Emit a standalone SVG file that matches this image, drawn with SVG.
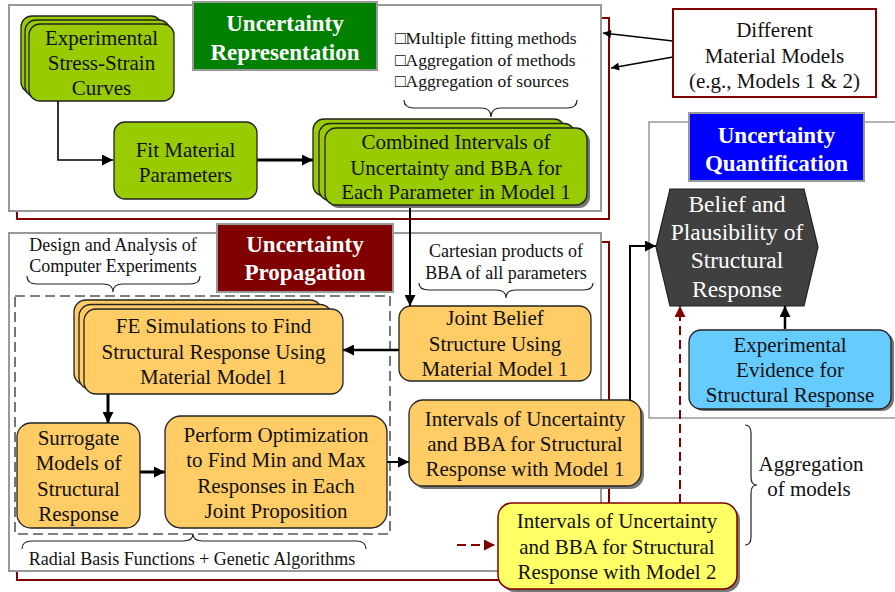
<svg xmlns="http://www.w3.org/2000/svg" width="895" height="592" viewBox="0 0 895 592" font-family="'Liberation Serif', 'Times New Roman', 'DejaVu Serif', serif">
<defs>
<style>
text{font-family:'Liberation Serif','Times New Roman','DejaVu Serif',serif;fill:#111;}
.t{font-size:21px;text-anchor:middle;}
.s{font-size:18px;text-anchor:middle;}
.h{font-size:23px;font-weight:bold;fill:#fff;text-anchor:middle;}
.w{fill:#fff;font-size:23.5px;text-anchor:middle;}
.panel{fill:#fff;stroke:#999;stroke-width:2;}
.rpanel{fill:none;stroke:#800000;stroke-width:2;}
.green{fill:#99CC00;stroke:#222;stroke-width:1.3;}
.orange{fill:#FFCC66;stroke:#222;stroke-width:1.3;}
.blue{fill:#66CCFF;stroke:#222;stroke-width:1.3;}
.yellow{fill:#FFFF66;stroke:#800000;stroke-width:1.5;}
.shadow{fill:#777;}
.ttl{stroke:#999;stroke-width:2;}
.brace{fill:none;stroke:#222;stroke-width:1.2;}
.c{fill:none;stroke:#000;}
.cr{fill:none;stroke:#800000;stroke-width:2;stroke-dasharray:9,5;}
</style>
<marker id="ah" viewBox="0 0 10 10" refX="10" refY="5" markerUnits="userSpaceOnUse" markerWidth="13" markerHeight="11" orient="auto"><path d="M0,0 L10,5 L0,10 z" fill="#000"/></marker>
<marker id="ahs" viewBox="0 0 10 10" refX="10" refY="5" markerUnits="userSpaceOnUse" markerWidth="10" markerHeight="8" orient="auto"><path d="M0,0 L10,5 L0,10 z" fill="#000"/></marker>
<marker id="ahr" viewBox="0 0 10 10" refX="10" refY="5" markerUnits="userSpaceOnUse" markerWidth="12" markerHeight="11" orient="auto"><path d="M0,0 L10,5 L0,10 z" fill="#800000"/></marker>
</defs>
<rect width="895" height="592" fill="#fff"/>

<g id="panels">
<rect class="rpanel" x="17" y="18" width="592" height="201"/>
<rect class="panel" x="9" y="5" width="592" height="206"/>
<rect class="rpanel" x="17" y="242" width="592" height="338"/>
<rect class="panel" x="9" y="233" width="592" height="338"/>
<rect x="649" y="122" width="260" height="296" fill="#fff" stroke="#999" stroke-width="1.5"/>
<rect x="15" y="296" width="375" height="238" fill="none" stroke="#555" stroke-width="1.6" stroke-dasharray="10,5"/>
</g>

<g id="title-representation">
<rect class="ttl" x="193" y="2" width="184" height="68" fill="#008000"/>
<text class="h" x="285" y="31">Uncertainty</text>
<text class="h" x="285" y="60">Representation</text>
</g>
<g id="title-propagation">
<rect class="ttl" x="217" y="224" width="176" height="68" fill="#800000"/>
<text class="h" x="305" y="252">Uncertainty</text>
<text class="h" x="305" y="280">Propagation</text>
</g>
<g id="title-quantification">
<rect class="ttl" x="689" y="113" width="175" height="68" fill="#0000FF"/>
<text class="h" x="776.5" y="143">Uncertainty</text>
<text class="h" x="776.5" y="171">Quantification</text>
</g>

<g id="annotations">
<text x="395" y="44" style="font-size:17.5px">□Multiple fitting methods</text>
<text x="395" y="66" style="font-size:17.5px">□Aggregation of methods</text>
<text x="395" y="87" style="font-size:17.5px">□Aggregation of sources</text>
<path class="brace" d="M404,100 Q404,108 414,108 L481,108 Q491,108 491,117 Q491,108 501,108 L567,108 Q577,108 577,100"/>
<text class="s" x="113" y="251">Design and Analysis of</text>
<text class="s" x="113" y="272">Computer Experiments</text>
<path class="brace" d="M27,276 Q27,284 37,284 L103,284 Q113,284 113,292 Q113,284 123,284 L190,284 Q200,284 200,276"/>
<text class="s" x="506" y="257">Cartesian products of</text>
<text class="s" x="506" y="279">BBA of all parameters</text>
<path class="brace" d="M419,283 Q419,290 429,290 L496,290 Q506,290 506,298 Q506,290 516,290 L583,290 Q593,290 593,283"/>
<path class="brace" d="M22,549 Q22,541 32,541 L183,541 Q193,541 193,534 Q193,541 203,541 L356,541 Q366,541 366,549"/>
<text class="s" x="192" y="565">Radial Basis Functions + Genetic Algorithms</text>
<path class="brace" d="M745,425 Q751,425 751,433 L751,477 Q751,485 757,485 Q751,485 751,493 L751,537 Q751,545 745,545"/>
<text class="t" x="811" y="471">Aggregation</text>
<text class="t" x="809" y="496">of models</text>
</g>

<g id="connectors">
<path class="c" stroke-width="1.6" d="M58,101 L58,160 L113,160" marker-end="url(#ah)"/>
<path class="c" stroke-width="3" d="M257,160 L313,160" marker-end="url(#ah)"/>
<path class="c" stroke-width="2" d="M410,205 L410,306" marker-end="url(#ah)"/>
<path class="c" stroke-width="2.5" d="M399,350 L343,350" marker-end="url(#ah)"/>
<path class="c" stroke-width="3" d="M108,394 L108,423" marker-end="url(#ah)"/>
<path class="c" stroke-width="3" d="M140,472 L165,472" marker-end="url(#ah)"/>
<path class="c" stroke-width="2" d="M387,462 L409,462" marker-end="url(#ah)"/>
<path class="c" stroke-width="2" d="M630,400 L630,246 L656,246" marker-end="url(#ah)"/>
<path class="c" stroke-width="2.5" d="M785,329 L785,306" marker-end="url(#ah)"/>
<path class="c" stroke-width="1.3" d="M673,41 L603,33" marker-end="url(#ahs)"/>
<path class="c" stroke-width="1.3" d="M673,57 L611,68" marker-end="url(#ahs)"/>
<path class="cr" d="M680,503 L680,306" marker-end="url(#ahr)"/>
<path class="cr" d="M457,545 L495,545" marker-end="url(#ahr)"/>
</g>

<g id="different-models">
<rect x="673" y="9" width="203" height="88" fill="#fff" stroke="#800000" stroke-width="2"/>
<text class="t" x="774.5" y="37">Different</text>
<text class="t" x="774.5" y="63">Material Models</text>
<text class="t" x="774.5" y="88">(e.g., Models 1 &amp; 2)</text>
</g>

<g id="experimental-curves">
<rect class="green" x="21" y="16" width="141" height="77" rx="11"/>
<rect class="green" x="25" y="20" width="145" height="77" rx="11"/>
<rect class="green" x="29" y="24" width="145" height="77" rx="11"/>
<text class="t" x="101.5" y="45">Experimental</text>
<text class="t" x="101.5" y="70">Stress-Strain</text>
<text class="t" x="101.5" y="95">Curves</text>
</g>

<g id="fit-parameters">
<rect class="green" x="114" y="122" width="143" height="77" rx="11"/>
<text class="t" x="185.5" y="157">Fit Material</text>
<text class="t" x="185.5" y="182">Parameters</text>
</g>

<g id="combined-intervals">
<rect class="green" x="313" y="119" width="252" height="77" rx="11"/>
<rect class="green" x="319" y="123.5" width="256" height="77" rx="11"/>
<rect class="shadow" x="328" y="131" width="262" height="77" rx="11"/>
<rect class="green" x="325" y="128" width="262" height="77" rx="11"/>
<text class="t" x="456" y="149">Combined Intervals of</text>
<text class="t" x="456" y="175">Uncertainty and BBA for</text>
<text class="t" x="456" y="199">Each Parameter in Model 1</text>
</g>

<g id="belief-plausibility">
<polygon points="670,189 804,189 818,247 804,306 670,306 656,247" fill="#404040" stroke="#222" stroke-width="1.2"/>
<text class="w" x="737" y="212">Belief and</text>
<text class="w" x="737" y="240">Plausibility of</text>
<text class="w" x="737" y="268">Structural</text>
<text class="w" x="737" y="297">Response</text>
</g>

<g id="experimental-evidence">
<rect class="shadow" x="692" y="332" width="202" height="79" rx="12"/>
<rect class="blue" x="689" y="330" width="202" height="79" rx="12"/>
<text class="t" x="790" y="352">Experimental</text>
<text class="t" x="790" y="377">Evidence for</text>
<text class="t" x="790" y="402">Structural Response</text>
</g>

<g id="fe-simulations">
<rect class="orange" x="74" y="300" width="248" height="85" rx="12"/>
<rect class="orange" x="79" y="304.5" width="253" height="85" rx="12"/>
<rect class="orange" x="84" y="309" width="259" height="85" rx="12"/>
<text class="t" x="213.5" y="333">FE Simulations to Find</text>
<text class="t" x="213.5" y="359">Structural Response Using</text>
<text class="t" x="213.5" y="384">Material Model 1</text>
</g>

<g id="joint-belief">
<rect class="orange" x="399" y="306" width="192" height="75" rx="12"/>
<text class="t" x="495" y="325">Joint Belief</text>
<text class="t" x="495" y="351">Structure Using</text>
<text class="t" x="495" y="376">Material Model 1</text>
</g>

<g id="surrogate">
<rect class="orange" x="17" y="423" width="123" height="105" rx="14"/>
<text class="t" x="78.5" y="445">Surrogate</text>
<text class="t" x="78.5" y="470">Models of</text>
<text class="t" x="78.5" y="496">Structural</text>
<text class="t" x="78.5" y="521">Response</text>
</g>

<g id="optimization">
<rect class="orange" x="165" y="416" width="222" height="112" rx="16"/>
<text class="t" x="276" y="442">Perform Optimization</text>
<text class="t" x="276" y="467">to Find Min and Max</text>
<text class="t" x="276" y="493">Responses in Each</text>
<text class="t" x="276" y="518">Joint Proposition</text>
</g>

<g id="intervals-model1">
<rect class="shadow" x="412" y="403" width="232" height="86" rx="14"/>
<rect class="orange" x="409" y="400" width="232" height="86" rx="14"/>
<text class="t" x="525" y="426">Intervals of Uncertainty</text>
<text class="t" x="525" y="451">and BBA for Structural</text>
<text class="t" x="525" y="476">Response with Model 1</text>
</g>

<g id="intervals-model2">
<rect class="shadow" x="501" y="506" width="239" height="86" rx="14"/>
<rect class="yellow" x="498" y="503" width="239" height="86" rx="14"/>
<text class="t" x="617" y="528">Intervals of Uncertainty</text>
<text class="t" x="617" y="554">and BBA for Structural</text>
<text class="t" x="617" y="579">Response with Model 2</text>
</g>
</svg>
